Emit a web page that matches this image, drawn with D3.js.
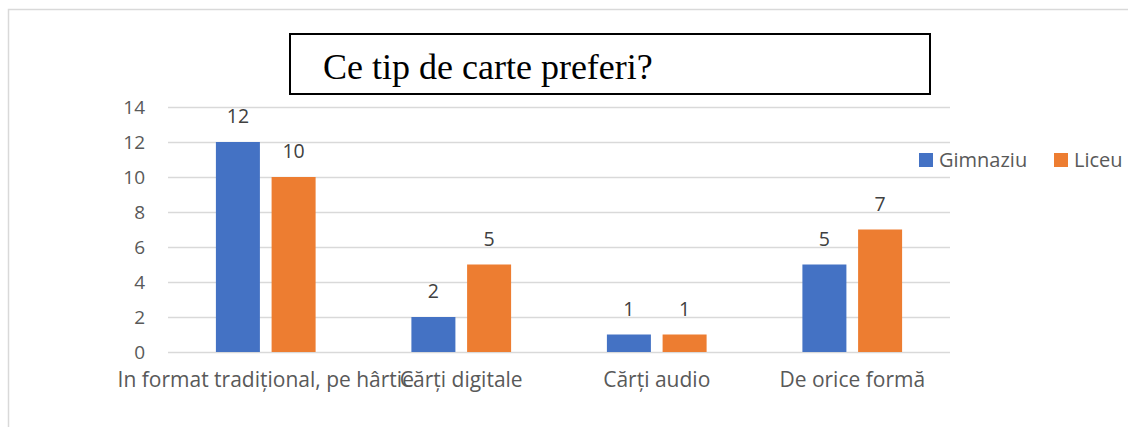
<!DOCTYPE html>
<html><head><meta charset="utf-8">
<script src="https://cdn.jsdelivr.net/npm/d3@7"></script>
<style>body{margin:0;background:#fff;} svg{display:block;}</style>
</head><body>
<svg id="c" width="1128" height="427"></svg>
<script>
const categories = ["In format tradițional, pe hârtie", "Cărți digitale", "Cărți audio", "De orice formă"];
const seriesNames = ["Gimnaziu", "Liceu"];
const gimnaziu = [12, 2, 1, 5];
const liceu = [10, 5, 1, 7];
const yTicks = [0, 2, 4, 6, 8, 10, 12, 14];
const titleText = "Ce tip de carte preferi?";
const colors = ["#4472c4", "#ed7d31"];

(function () {
const svg = d3.select("#c");
const font = "'Open Sans', 'Liberation Sans', sans-serif";
svg.append("rect").attr("x", 8.5).attr("y", 9.5).attr("width", 1130).attr("height", 430)
  .attr("fill", "#fff").attr("stroke", "#d9d9d9").attr("stroke-width", 1.5);

const pLeft = 168, pRight = 950, pTop = 107, pBottom = 352;
const x = d3.scaleBand().domain(categories).range([pLeft, pRight]);
const xs = d3.scaleBand().domain(seriesNames).range([0, x.bandwidth()]).paddingInner(0.21).paddingOuter(0.86);
const y = d3.scaleLinear().domain([0, 14]).range([pBottom, pTop]);

const gy = svg.append("g").attr("transform", `translate(${pLeft},0)`)
  .call(d3.axisLeft(y).tickValues(yTicks).tickSize(-(pRight - pLeft)).tickPadding(23));
gy.select(".domain").remove();
gy.selectAll(".tick line").attr("stroke", "#d9d9d9").attr("stroke-width", 1.3);
gy.selectAll(".tick text").attr("fill", "#595959").style("font", `19px ${font}`);

const data = categories.map((c, i) => ({c, vals: [gimnaziu[i], liceu[i]]}));
const groups = svg.append("g").selectAll("g").data(data).join("g")
  .attr("transform", d => `translate(${x(d.c)},0)`);
groups.selectAll("rect").data(d => d.vals.map((v, j) => ({v, s: seriesNames[j], j}))).join("rect")
  .attr("x", d => xs(d.s)).attr("width", xs.bandwidth())
  .attr("y", d => y(d.v)).attr("height", d => y(0) - y(d.v))
  .attr("fill", d => colors[d.j]);
groups.selectAll("text").data(d => d.vals.map((v, j) => ({v, s: seriesNames[j], j}))).join("text")
  .attr("x", d => xs(d.s) + xs.bandwidth() / 2).attr("y", d => y(d.v) - 19)
  .attr("text-anchor", "middle").attr("fill", "#404040").style("font", `19.5px ${font}`)
  .text(d => d.v);

const gx = svg.append("g").attr("transform", `translate(0,${pBottom})`)
  .call(d3.axisBottom(x).tickSize(0).tickPadding(20));
gx.select(".domain").remove();
gx.selectAll(".tick text").attr("fill", "#595959").style("font", `21px ${font}`);

svg.append("rect").attr("x", 290).attr("y", 34).attr("width", 640).attr("height", 60)
  .attr("fill", "#fff").attr("stroke", "#000").attr("stroke-width", 2);
svg.append("text").attr("x", 323).attr("y", 79).attr("fill", "#000")
  .style("font", "36px 'Liberation Serif', serif").text(titleText);

const legX = [919, 1054];
const lg = svg.append("g").selectAll("g").data(seriesNames).join("g")
  .attr("transform", (d, i) => `translate(${legX[i]},153)`);
lg.append("rect").attr("width", 14).attr("height", 14).attr("fill", (d, i) => colors[i]);
lg.append("text").attr("x", 20).attr("y", 14).attr("fill", "#595959")
  .style("font", `20px ${font}`).text(d => d);
})();
</script>
</body></html>
